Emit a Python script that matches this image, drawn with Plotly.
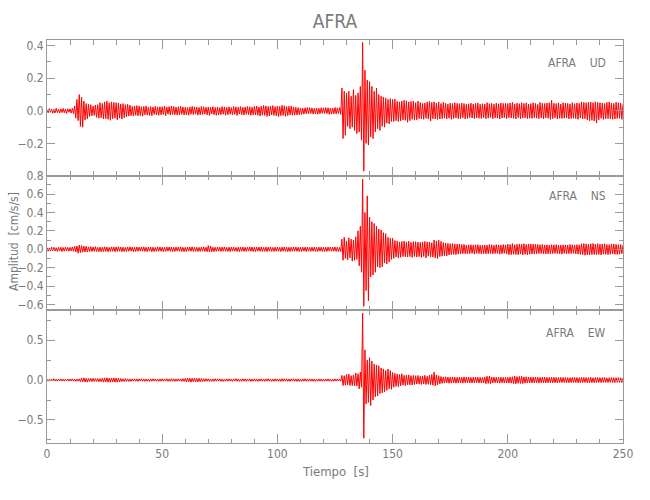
import numpy as np
import plotly.graph_objects as go
from plotly.subplots import make_subplots

# Samples every 0.5 s, 0 .. 250 s
SAMPLE_STEP = 0.5

# Vertical (UD) acceleration, in 0.001 cm/s/s (one row = 10 s)
ud_milli = [
    8, -12, 14, -9, 11, -15, 10, -13, 16, -11, 9, -14, 12, -10, 15, -12, 11, -16, 13, -9,
    12, -14, 15, -18, 30, -45, 70, -60, 100, -95, 85, -100, 60, -55, 45, -50, 40, -35, 38, -30,
    30, -28, 35, -40, 38, -45, 50, -42, 45, -50, 55, -48, 60, -52, 50, -58, 55, -48, 52, -45,
    50, -55, 48, -45, 42, -50, 45, -42, 38, -35, 40, -32, 35, -30, 28, -32, 30, -27, 32, -30,
    30, -28, 25, -32, 27, -24, 30, -26, 22, -28, 26, -30, 24, -22, 28, -25, 23, -27, 25, -24,
    25, -22, 28, -30, 24, -20, 26, -25, 30, -22, 27, -24, 22, -26, 25, -23, 28, -21, 24, -26,
    22, -25, 20, -27, 24, -21, 28, -23, 25, -20, 23, -26, 21, -24, 27, -22, 25, -20, 22, -25,
    24, -28, 22, -19, 26, -24, 21, -27, 23, -25, 20, -23, 26, -21, 24, -27, 22, -24, 25, -21,
    20, -24, 27, -22, 25, -28, 23, -20, 26, -24, 22, -26, 24, -21, 27, -23, 25, -28, 22, -25,
    28, -25, 30, -27, 24, -32, 29, -26, 33, -28, 30, -34, 27, -31, 29, -25, 32, -28, 26, -30,
    30, -35, 27, -30, 34, -28, 31, -33, 26, -29, 28, -25, 30, -27, 24, -26, 22, -25, 20, -23,
    18, -22, 16, -20, 19, -17, 21, -18, 20, -16, 18, -20, 15, -19, 17, -21, 16, -18, 19, -15,
    18, -15, 20, -17, 19, -22, 17, -20, 16, -18, 21, -19, 18, -16, 20, -22, 140, -170, 120, -150,
    110, -95, 120, -110, 90, -100, 130, -120, 95, -140, 110, -130, 150, -180, 420, -370, 250, -200, 190, -210,
    180, -160, 150, -170, 120, -130, 140, -110, 100, -120, 90, -95, 85, -100, 80, -75, 70, -80, 75, -65,
    70, -65, 72, -60, 58, -66, 55, -62, 60, -55, 65, -58, 62, -70, 55, -60, 58, -52, 60, -57,
    50, -55, 60, -48, 52, -50, 45, -52, 48, -46, 55, -50, 58, -62, 52, -48, 55, -50, 47, -53,
    55, -50, 45, -48, 52, -44, 47, -50, 42, -45, 48, -52, 45, -47, 50, -43, 46, -49, 44, -48,
    48, -42, 45, -50, 40, -46, 43, -41, 47, -44, 42, -48, 46, -43, 49, -45, 41, -47, 44, -42,
    42, -48, 50, -45, 44, -40, 46, -49, 41, -43, 47, -45, 43, -50, 48, -44, 46, -42, 45, -48,
    45, -42, 48, -44, 52, -46, 43, -50, 47, -41, 44, -48, 50, -45, 46, -43, 49, -47, 42, -45,
    44, -47, 50, -42, 46, -45, 40, -48, 52, -44, 47, -50, 45, -43, 48, -46, 50, -52, 65, -48,
    47, -43, 45, -50, 49, -46, 42, -47, 50, -45, 48, -44, 46, -49, 43, -47, 50, -45, 44, -48,
    48, -52, 46, -44, 55, -50, 52, -48, 50, -55, 52, -60, 54, -58, 50, -62, 56, -75, 52, -55,
    50, -46, 48, -53, 45, -49, 52, -47, 55, -50, 48, -52, 46, -50, 53, -47, 50, -45, 48, -52,
    40,
]

# North-South (NS) acceleration, in 0.001 cm/s/s
ns_milli = [
    18, -22, 15, -20, 24, -17, 21, -19, 16, -23, 20, -18, 22, -25, 19, -21, 24, -17, 20, -22,
    20, -18, 25, -22, 30, -28, 35, -42, 45, -38, 40, -32, 35, -30, 32, -28, 26, -24, 28, -25,
    25, -22, 28, -24, 20, -26, 23, -27, 22, -25, 27, -23, 25, -28, 21, -24, 26, -22, 24, -27,
    26, -23, 28, -21, 24, -27, 22, -25, 20, -24, 25, -22, 27, -20, 23, -26, 21, -24, 25, -22,
    23, -20, 25, -22, 27, -24, 21, -26, 23, -20, 24, -27, 22, -25, 20, -23, 26, -21, 24, -22,
    22, -25, 20, -23, 26, -21, 24, -22, 25, -27, 21, -24, 23, -20, 25, -22, 27, -24, 21, -26,
    21, -24, 23, -20, 25, -22, 26, -23, 21, -24, 22, -25, 20, -23, 24, -21, 26, -24, 22, -27,
    40, -30, 35, -28, 22, -25, 21, -23, 24, -20, 22, -25, 23, -21, 25, -22, 20, -24, 22, -26,
    23, -21, 25, -22, 20, -24, 22, -26, 24, -21, 25, -23, 21, -24, 23, -20, 26, -22, 24, -25,
    22, -25, 24, -20, 23, -22, 26, -24, 21, -23, 24, -26, 22, -21, 25, -23, 20, -24, 23, -22,
    24, -22, 20, -25, 23, -21, 25, -23, 22, -26, 21, -24, 23, -22, 25, -20, 24, -23, 22, -25,
    21, -24, 23, -20, 22, -25, 24, -22, 20, -23, 22, -21, 24, -23, 21, -25, 23, -20, 22, -24,
    22, -24, 21, -23, 25, -20, 24, -22, 23, -21, 25, -23, 22, -24, 20, -25, 110, -120, 130, -100,
    90, -115, 125, -95, 110, -130, 100, -120, 135, -110, 200, -180, 250, -250, 760, -620, 400, -450, 580, -560,
    350, -300, 300, -280, 280, -250, 250, -190, 220, -200, 210, -190, 180, -150, 170, -160, 130, -140, 120, -110,
    120, -100, 95, -85, 90, -95, 80, -88, 85, -80, 90, -82, 78, -85, 88, -80, 75, -90, 82, -78,
    82, -85, 78, -80, 75, -90, 80, -78, 85, -95, 80, -75, 78, -82, 70, -85, 100, -95, 90, -100,
    100, -80, 85, -75, 72, -70, 68, -72, 65, -62, 60, -58, 62, -55, 58, -60, 55, -52, 56, -50,
    50, -47, 53, -49, 45, -52, 48, -46, 50, -44, 47, -52, 49, -45, 51, -47, 44, -50, 46, -48,
    47, -50, 45, -48, 52, -46, 49, -51, 44, -47, 50, -45, 48, -53, 46, -49, 51, -44, 47, -50,
    55, -60, 52, -58, 62, -55, 50, -57, 54, -60, 58, -52, 56, -62, 60, -55, 52, -58, 57, -54,
    58, -52, 56, -50, 53, -48, 51, -47, 50, -46, 52, -49, 47, -51, 48, -50, 46, -49, 50, -47,
    48, -45, 50, -47, 44, -49, 46, -52, 48, -45, 47, -50, 45, -48, 52, -46, 49, -44, 47, -51,
    50, -53, 48, -55, 60, -58, 62, -65, 58, -60, 55, -62, 60, -57, 63, -58, 55, -60, 62, -56,
    55, -62, 57, -53, 60, -55, 52, -58, 50, -54, 56, -52, 58, -55, 53, -57, 50, -54, 52, -48,
    45,
]

# East-West (EW) acceleration, in 0.001 cm/s/s
ew_milli = [
    12, -15, 10, -13, 14, -11, 16, -12, 10, -14, 13, -11, 15, -12, 11, -14, 12, -10, 14, -13,
    13, -11, 15, -14, 12, -16, 14, -13, 15, -20, 25, -22, 28, -24, 22, -26, 20, -18, 22, -19,
    22, -18, 20, -17, 19, -21, 18, -20, 22, -26, 28, -24, 30, -27, 25, -28, 26, -23, 28, -25,
    25, -28, 22, -24, 20, -18, 16, -19, 18, -16, 15, -17, 14, -16, 15, -13, 16, -14, 15, -16,
    15, -13, 17, -14, 12, -16, 14, -15, 13, -17, 15, -14, 16, -12, 14, -15, 13, -16, 15, -14,
    16, -14, 15, -13, 17, -15, 14, -16, 18, -15, 16, -17, 14, -15, 16, -13, 15, -17, 18, -16,
    20, -22, 25, -21, 24, -26, 22, -20, 25, -23, 21, -24, 22, -20, 19, -22, 18, -16, 17, -15,
    15, -17, 14, -16, 13, -15, 17, -14, 16, -13, 15, -16, 14, -17, 13, -15, 16, -14, 15, -13,
    14, -16, 15, -13, 17, -15, 14, -16, 13, -15, 16, -14, 15, -16, 14, -13, 15, -17, 14, -15,
    16, -14, 15, -17, 14, -13, 16, -15, 14, -16, 15, -13, 17, -15, 14, -16, 13, -15, 16, -14,
    15, -17, 14, -16, 18, -15, 17, -14, 16, -15, 14, -16, 15, -13, 17, -15, 14, -16, 15, -17,
    14, -16, 15, -13, 17, -15, 14, -16, 15, -14, 13, -15, 14, -16, 12, -14, 15, -13, 14, -15,
    13, -15, 14, -12, 15, -14, 13, -15, 12, -14, 15, -13, 14, -12, 13, -15, 60, -70, 55, -65,
    70, -60, 75, -68, 55, -70, 65, -72, 90, -75, 80, -110, 100, -90, 840, -730, 380, -300, 250, -280,
    280, -320, 240, -250, 200, -210, 190, -200, 180, -170, 150, -160, 140, -150, 120, -130, 140, -110, 120, -115,
    95, -90, 85, -80, 75, -82, 70, -72, 80, -65, 60, -68, 62, -58, 65, -60, 55, -62, 58, -55,
    55, -50, 58, -52, 48, -55, 52, -50, 60, -55, 48, -52, 60, -58, 70, -65, 100, -72, 65, -60,
    55, -48, 45, -42, 40, -38, 42, -36, 38, -40, 36, -38, 40, -35, 37, -39, 34, -36, 38, -35,
    35, -38, 40, -34, 36, -32, 38, -35, 33, -37, 36, -34, 38, -32, 35, -37, 34, -36, 32, -35,
    40, -45, 48, -42, 50, -46, 38, -35, 37, -33, 35, -36, 34, -38, 36, -33, 35, -37, 33, -36,
    34, -37, 40, -38, 42, -45, 50, -47, 44, -40, 46, -42, 48, -44, 40, -38, 42, -36, 38, -35,
    38, -35, 37, -34, 36, -33, 35, -38, 34, -32, 35, -33, 37, -35, 33, -34, 36, -32, 34, -35,
    36, -34, 33, -35, 32, -30, 34, -31, 33, -30, 32, -34, 31, -33, 30, -32, 34, -30, 33, -31,
    32, -34, 30, -33, 35, -31, 33, -30, 32, -34, 31, -33, 35, -32, 30, -34, 33, -31, 32, -30,
    30, -32, 31, -29, 33, -30, 28, -31, 30, -29, 32, -30, 29, -31, 30, -28, 31, -30, 29, -31,
    25,
]

components = ["UD", "NS", "EW"]
station = "AFRA"
y_ranges = [[-0.397, 0.435], [-0.66, 0.801], [-0.79, 0.88]]
y_dticks = [0.2, 0.2, 0.5]
y_minor = [0.1, 0.1, 0.25]

AXIS_COL = "#9a9a9a"
TEXT_COL = "#7a7a7a"
FONT = "Liberation Sans Narrow, DejaVu Sans Condensed, sans-serif"

fig = make_subplots(rows=3, cols=1, shared_xaxes=True, vertical_spacing=0)

for i, vals in enumerate([ud_milli, ns_milli, ew_milli]):
    t = np.arange(len(vals)) * SAMPLE_STEP
    fig.add_trace(
        go.Scatter(x=t, y=np.array(vals) / 1000.0, mode="lines",
                   line=dict(color="#ff0000", width=1), showlegend=False,
                   hoverinfo="skip"),
        row=i + 1, col=1)

domains = [[0.6637, 1.0], [0.330, 0.6637], [0.0, 0.330]]
for i in range(3):
    fig.update_yaxes(
        row=i + 1, col=1, range=y_ranges[i], dtick=y_dticks[i], tick0=0,
        tickformat=".1f", domain=domains[i],
        showline=True, linecolor=AXIS_COL, linewidth=1, mirror="ticks",
        ticks="inside", ticklen=8, tickcolor=AXIS_COL, showgrid=False,
        zeroline=False,
        minor=dict(dtick=y_minor[i], tick0=0, ticks="inside", ticklen=4,
                   tickcolor=AXIS_COL, showgrid=False),
        tickfont=dict(family=FONT, size=12, color=TEXT_COL))
    fig.update_xaxes(
        row=i + 1, col=1, range=[0, 250], dtick=50, tick0=0,
        showline=True, linecolor=AXIS_COL, linewidth=1, mirror="ticks",
        ticks="inside", ticklen=9, tickcolor=AXIS_COL, showgrid=False,
        zeroline=False,
        minor=dict(dtick=10, tick0=0, ticks="inside", ticklen=4.5,
                   tickcolor=AXIS_COL, showgrid=False),
        tickfont=dict(family=FONT, size=12, color=TEXT_COL))

L, R, T, B = 47, 27, 40, 57
ph = 500 - T - B
pw = 650 - L - R

label_y_px = [63, 196, 333]
annotations = []
for comp, ypx in zip(components, label_y_px):
    annotations.append(dict(
        text=station + "\u00a0\u00a0\u00a0\u00a0" + comp, xref="paper", yref="paper",
        x=1, y=(500 - B - ypx) / ph, xanchor="right", yanchor="middle",
        xshift=-15, showarrow=False,
        font=dict(family=FONT, size=12, color=TEXT_COL)))
annotations.append(dict(
    text="Amplitud  [cm/s/s]", xref="paper", yref="paper",
    x=(13.5 - L) / pw, y=(500 - B - 241.5) / ph, xanchor="center",
    yanchor="middle", textangle=-90, showarrow=False,
    font=dict(family=FONT, size=12, color=TEXT_COL)))
annotations.append(dict(
    text="Tiempo  [s]", xref="paper", yref="paper",
    x=0.5, y=(500 - B - 471.7) / ph, xanchor="center", yanchor="middle",
    showarrow=False, font=dict(family=FONT, size=13, color=TEXT_COL)))

fig.update_layout(
    width=650, height=500,
    margin=dict(l=L, r=R, t=T, b=B),
    paper_bgcolor="white", plot_bgcolor="white",
    title=dict(text=station, x=(L + pw / 2) / 650, xanchor="center",
               y=1 - 21 / 500, yanchor="middle",
               font=dict(family=FONT, size=19, color=TEXT_COL)),
    annotations=annotations,
    showlegend=False,
)

fig.write_html("out.html",
               config={"displayModeBar": False},
               post_script="document.body.style.margin='0px';document.body.style.padding='0px';")
